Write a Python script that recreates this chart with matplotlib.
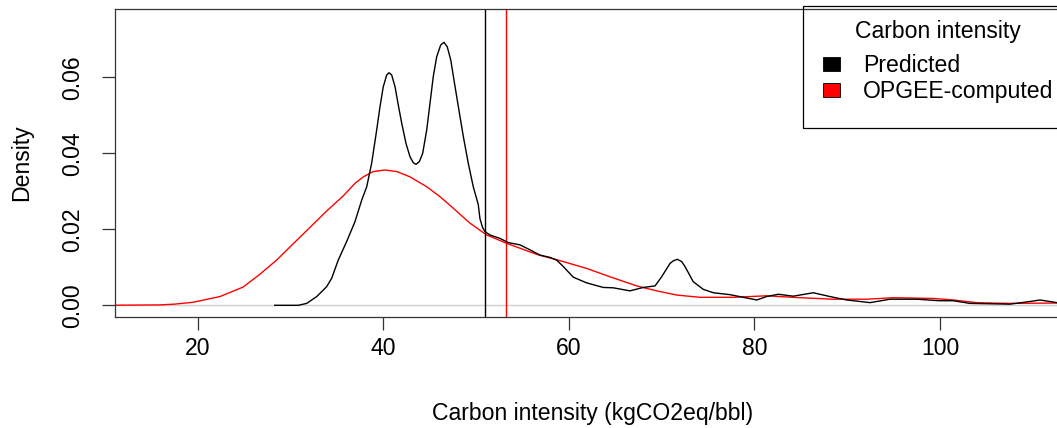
import matplotlib
matplotlib.use('Agg')
import matplotlib.pyplot as plt
from matplotlib.patches import Patch, Rectangle

# density of predicted carbon intensity
pred_x = [28.3, 30.85, 31.75, 32.83, 33.9, 34.44, 35.15, 36.06, 36.95, 37.68, 38.22, 38.75,
          39.29, 39.65, 40.0, 40.37, 40.62, 40.91, 41.27, 41.62, 41.99, 42.45, 42.88, 43.24,
          43.53, 43.89, 44.25, 44.68, 45.04, 45.39, 45.76, 46.19, 46.55, 46.9, 47.27, 47.62,
          48.09, 48.63, 49.16, 49.7, 50.24, 50.42, 50.7, 50.96, 51.5, 52.58, 53.48, 54.74,
          55.81, 56.89, 57.97, 58.69, 59.4, 60.48, 61.92, 63.71, 64.79, 66.59, 68.03, 69.29,
          70.0, 70.9, 71.26, 71.69, 72.16, 72.52, 73.41, 74.49, 75.57, 77.37, 78.8, 80.25,
          81.32, 82.57, 84.19, 86.35, 88.14, 89.94, 92.46, 94.61, 97.49, 100.0, 101.43,
          103.23, 107.54, 109.7, 110.78, 112.58, 114.5]
pred_y = [0.0, 0.0, 0.0005, 0.0023, 0.0049, 0.0071, 0.0119, 0.0168, 0.022, 0.0277, 0.0312,
          0.0374, 0.0461, 0.0523, 0.0575, 0.0606, 0.0612, 0.0606, 0.0575, 0.0527, 0.0479,
          0.0426, 0.0391, 0.0375, 0.0371, 0.0378, 0.04, 0.0461, 0.0532, 0.0602, 0.0654,
          0.0685, 0.0692, 0.068, 0.0646, 0.0593, 0.0523, 0.0444, 0.0374, 0.0312, 0.0265,
          0.0228, 0.0205, 0.0194, 0.0185, 0.0176, 0.0165, 0.0159, 0.0146, 0.0132, 0.0126,
          0.0119, 0.0102, 0.0074, 0.0059, 0.0047, 0.0046, 0.0038, 0.0047, 0.0051, 0.0075,
          0.011, 0.0117, 0.0121, 0.0115, 0.0102, 0.0062, 0.0042, 0.0033, 0.0028, 0.0021,
          0.0014, 0.0023, 0.0029, 0.0024, 0.0033, 0.0023, 0.0014, 0.0007, 0.0016, 0.0016,
          0.0012, 0.0012, 0.0005, 0.0003, 0.001, 0.0014, 0.0007, 0.0003]

# density of OPGEE-computed carbon intensity
opgee_x = [8.0, 11.1, 15.9, 17.5, 19.5, 22.4, 24.9, 26.72, 28.51, 30.3, 32.1, 33.9, 35.69,
           37.0, 37.85, 38.93, 40.19, 41.45, 42.88, 44.68, 46.11, 47.38, 49.35, 51.15, 53.3,
           56.54, 59.41, 61.92, 64.44, 67.31, 69.47, 71.62, 74.13, 77.7, 81.32, 84.9, 88.5,
           92.1, 94.97, 99.28, 101.43, 103.95, 107.18, 112.58, 115.0]
opgee_y = [0.0, 0.00002, 0.0001, 0.0003, 0.0008, 0.0023, 0.0048, 0.0082, 0.0119, 0.0162,
           0.0205, 0.0248, 0.0288, 0.0322, 0.0338, 0.0352, 0.0356, 0.0352, 0.0338, 0.0312,
           0.0286, 0.0259, 0.0216, 0.0185, 0.0163, 0.0134, 0.0115, 0.0097, 0.0075, 0.0051,
           0.0038, 0.0027, 0.0021, 0.0021, 0.0025, 0.002, 0.0016, 0.0016, 0.002, 0.0018,
           0.0014, 0.0007, 0.0005, 0.0006, 0.0004]

# means
pred_mean = 51.0
opgee_mean = 53.2

x_ticks = [20, 40, 60, 80, 100]
y_ticks = [0.00, 0.02, 0.04, 0.06]
y_labels = ['0.00', '0.02', '0.04', '0.06']

plt.rcParams['font.family'] = ['Liberation Sans', 'DejaVu Sans']
fs = 16.6

fig = plt.figure(figsize=(10.57, 4.28), dpi=100)
W, H = 1057, 428
ax = fig.add_axes([115 / W, (H - 317) / H, (1070 - 115) / W, (317 - 9) / H])

ax.axhline(0, color='#d0d0d0', lw=1.0, zorder=1)
ax.plot(pred_x, pred_y, color='black', lw=1.0, zorder=3)
ax.plot(opgee_x, opgee_y, color='red', lw=1.0, zorder=2)
ax.axvline(pred_mean, color='black', lw=1.0)
ax.axvline(opgee_mean, color='red', lw=1.0)

ax.set_xlim(11.09, 114.01)
ax.set_ylim(-0.00308, 0.07797)
ax.set_xticks(x_ticks)
ax.set_xticklabels([str(t) for t in x_ticks], fontsize=fs)
ax.set_yticks(y_ticks)
ax.set_yticklabels(y_labels, fontsize=fs, rotation=90, va='center')
ax.tick_params(axis='both', length=9.4, width=0.9, color='#333333')
ax.tick_params(axis='x', pad=5)
ax.tick_params(axis='y', pad=13)
for s in ax.spines.values():
    s.set_linewidth(0.9)
    s.set_color('#333333')

ax.set_xlabel('Carbon intensity (kgCO2eq/bbl)', fontsize=fs, labelpad=30.5)
ax.set_ylabel('Density', fontsize=fs, labelpad=20)

# legend frame drawn like R's legend box (top right, clipped by figure edge)
axw, axh = 1070 - 115, 317 - 9
ax.add_patch(Rectangle(((803 - 115) / axw, (317 - 128) / axh), (1075 - 803) / axw,
                       (128 - 9) / axh + 0.01, transform=ax.transAxes, fill=False,
                       ec='black', lw=0.9, clip_on=False, zorder=5))
handles = [Patch(facecolor='black', edgecolor='black', lw=0.6),
           Patch(facecolor='red', edgecolor='black', lw=0.6)]
leg = ax.legend(handles, ['Predicted', 'OPGEE-computed'], title='Carbon intensity',
                loc='upper left', bbox_to_anchor=((823 - 115) / axw, (317 - 20) / axh),
                frameon=False, borderpad=0, borderaxespad=0, fontsize=fs,
                title_fontsize=fs, handlelength=0.73, handleheight=0.57,
                handletextpad=0.99, labelspacing=0.12)
leg._legend_box.sep = 8

fig.savefig('out.png', dpi=100)
